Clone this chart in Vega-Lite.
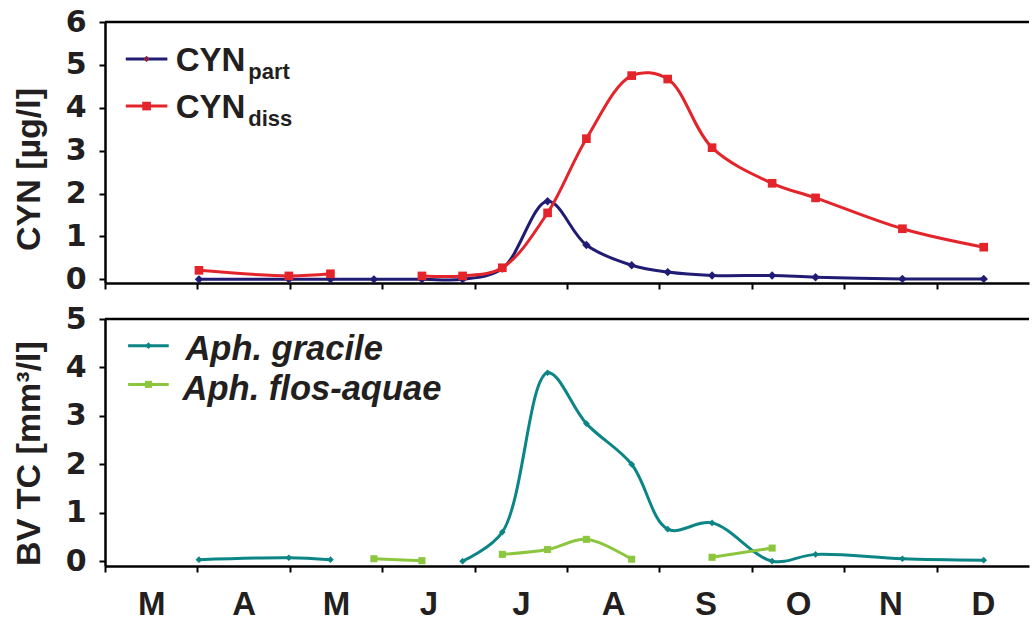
{
  "$schema": "https://vega.github.io/schema/vega-lite/v6.json",
  "background": "white",
  "padding": {"left": 11, "top": 7, "right": 2, "bottom": 2},
  "spacing": 9,
  "resolve": {"scale": {"color": "independent", "shape": "independent", "size": "independent"}},
  "datasets": {
    "main": [
      {"panel": "top", "series": "CYNpart", "seg": 1, "m": 1.017, "v": 0.0},
      {"panel": "top", "series": "CYNpart", "seg": 1, "m": 1.99, "v": 0.0},
      {"panel": "top", "series": "CYNpart", "seg": 1, "m": 2.44, "v": 0.0},
      {"panel": "top", "series": "CYNpart", "seg": 1, "m": 2.91, "v": 0.0},
      {"panel": "top", "series": "CYNpart", "seg": 1, "m": 3.43, "v": 0.0},
      {"panel": "top", "series": "CYNpart", "seg": 1, "m": 3.87, "v": 0.0},
      {"panel": "top", "series": "CYNpart", "seg": 1, "m": 4.30, "v": 0.25},
      {"panel": "top", "series": "CYNpart", "seg": 1, "m": 4.79, "v": 1.82},
      {"panel": "top", "series": "CYNpart", "seg": 1, "m": 5.21, "v": 0.80},
      {"panel": "top", "series": "CYNpart", "seg": 1, "m": 5.70, "v": 0.33},
      {"panel": "top", "series": "CYNpart", "seg": 1, "m": 6.09, "v": 0.17},
      {"panel": "top", "series": "CYNpart", "seg": 1, "m": 6.57, "v": 0.09},
      {"panel": "top", "series": "CYNpart", "seg": 1, "m": 7.22, "v": 0.09},
      {"panel": "top", "series": "CYNpart", "seg": 1, "m": 7.69, "v": 0.05},
      {"panel": "top", "series": "CYNpart", "seg": 1, "m": 8.63, "v": 0.01},
      {"panel": "top", "series": "CYNpart", "seg": 1, "m": 9.51, "v": 0.01},
      {"panel": "top", "series": "CYNdiss", "seg": 1, "m": 1.017, "v": 0.21},
      {"panel": "top", "series": "CYNdiss", "seg": 1, "m": 1.99, "v": 0.08},
      {"panel": "top", "series": "CYNdiss", "seg": 1, "m": 2.44, "v": 0.13},
      {"panel": "top", "series": "CYNdiss", "seg": 2, "m": 3.43, "v": 0.08},
      {"panel": "top", "series": "CYNdiss", "seg": 2, "m": 3.87, "v": 0.08},
      {"panel": "top", "series": "CYNdiss", "seg": 2, "m": 4.30, "v": 0.27},
      {"panel": "top", "series": "CYNdiss", "seg": 2, "m": 4.79, "v": 1.55},
      {"panel": "top", "series": "CYNdiss", "seg": 2, "m": 5.21, "v": 3.28},
      {"panel": "top", "series": "CYNdiss", "seg": 2, "m": 5.70, "v": 4.75},
      {"panel": "top", "series": "CYNdiss", "seg": 2, "m": 6.09, "v": 4.67},
      {"panel": "top", "series": "CYNdiss", "seg": 2, "m": 6.57, "v": 3.07},
      {"panel": "top", "series": "CYNdiss", "seg": 2, "m": 7.22, "v": 2.24},
      {"panel": "top", "series": "CYNdiss", "seg": 2, "m": 7.69, "v": 1.90},
      {"panel": "top", "series": "CYNdiss", "seg": 2, "m": 8.63, "v": 1.18},
      {"panel": "top", "series": "CYNdiss", "seg": 2, "m": 9.51, "v": 0.75},
      {"panel": "bottom", "series": "Aph. gracile", "seg": 1, "m": 1.017, "v": 0.03},
      {"panel": "bottom", "series": "Aph. gracile", "seg": 1, "m": 1.99, "v": 0.07},
      {"panel": "bottom", "series": "Aph. gracile", "seg": 1, "m": 2.44, "v": 0.03},
      {"panel": "bottom", "series": "Aph. gracile", "seg": 2, "m": 3.87, "v": 0.0},
      {"panel": "bottom", "series": "Aph. gracile", "seg": 2, "m": 4.30, "v": 0.6},
      {"panel": "bottom", "series": "Aph. gracile", "seg": 2, "m": 4.79, "v": 3.89},
      {"panel": "bottom", "series": "Aph. gracile", "seg": 2, "m": 5.21, "v": 2.84},
      {"panel": "bottom", "series": "Aph. gracile", "seg": 2, "m": 5.70, "v": 2.0},
      {"panel": "bottom", "series": "Aph. gracile", "seg": 2, "m": 6.09, "v": 0.66},
      {"panel": "bottom", "series": "Aph. gracile", "seg": 2, "m": 6.57, "v": 0.79},
      {"panel": "bottom", "series": "Aph. gracile", "seg": 2, "m": 7.22, "v": 0.0},
      {"panel": "bottom", "series": "Aph. gracile", "seg": 2, "m": 7.69, "v": 0.14},
      {"panel": "bottom", "series": "Aph. gracile", "seg": 2, "m": 8.63, "v": 0.05},
      {"panel": "bottom", "series": "Aph. gracile", "seg": 2, "m": 9.51, "v": 0.02},
      {"panel": "bottom", "series": "Aph. flos-aquae", "seg": 1, "m": 2.91, "v": 0.05},
      {"panel": "bottom", "series": "Aph. flos-aquae", "seg": 1, "m": 3.43, "v": 0.01},
      {"panel": "bottom", "series": "Aph. flos-aquae", "seg": 2, "m": 4.30, "v": 0.14},
      {"panel": "bottom", "series": "Aph. flos-aquae", "seg": 2, "m": 4.79, "v": 0.24},
      {"panel": "bottom", "series": "Aph. flos-aquae", "seg": 2, "m": 5.21, "v": 0.45},
      {"panel": "bottom", "series": "Aph. flos-aquae", "seg": 2, "m": 5.70, "v": 0.04},
      {"panel": "bottom", "series": "Aph. flos-aquae", "seg": 3, "m": 6.57, "v": 0.08},
      {"panel": "bottom", "series": "Aph. flos-aquae", "seg": 3, "m": 7.22, "v": 0.27}
    ]
  },
  "config": {
    "font": "Liberation Sans",
    "view": {"stroke": null},
    "axis": {
      "grid": false,
      "domainColor": "#000000",
      "domainWidth": 2.5,
      "tickColor": "#000000",
      "tickWidth": 2,
      "tickSize": 6,
      "labelFont": "DejaVu Sans",
      "labelFontWeight": "bold",
      "labelFontSize": 30,
      "labelColor": "#231f20",
      "titleFont": "Liberation Sans",
      "titleFontWeight": "bold",
      "titleFontSize": 34,
      "titleColor": "#231f20"
    },
    "text": {"font": "Liberation Sans", "fontWeight": "bold", "color": "#231f20"}
  },
  "vconcat": [
    {
      "width": 924,
      "height": 261,
      "layer": [
        {
          "data": {"name": "main"},
          "transform": [{"filter": "datum.panel === 'top'"}],
          "mark": {"type": "line", "interpolate": "catmull-rom", "strokeWidth": 3},
          "encoding": {
            "x": {"field": "m", "type": "quantitative",
              "scale": {"domain": [0, 10], "nice": false, "zero": false},
              "axis": {"values": [0, 1, 2, 3, 4, 5, 6, 7, 8, 9], "labels": false, "title": null}},
            "y": {"field": "v", "type": "quantitative",
              "scale": {"domain": [-0.085, 6], "nice": false, "zero": false},
              "axis": {"values": [0, 1, 2, 3, 4, 5, 6], "title": "CYN [µg/l]", "labelPadding": 13, "titleX": -66, "titleY": 147, "titleBaseline": "alphabetic", "titleAngle": -90}},
            "color": {"field": "series", "type": "nominal",
              "scale": {"domain": ["CYNpart", "CYNdiss"], "range": ["#211c73", "#e3242b"]}, "legend": null},
            "detail": {"field": "seg"},
            "order": {"field": "m"}
          }
        },
        {
          "data": {"name": "main"},
          "transform": [{"filter": "datum.panel === 'top'"}],
          "mark": {"type": "point", "filled": true, "opacity": 1},
          "encoding": {
            "x": {"field": "m", "type": "quantitative"},
            "y": {"field": "v", "type": "quantitative"},
            "color": {"field": "series", "type": "nominal", "legend": null},
            "shape": {"field": "series", "type": "nominal",
              "scale": {"domain": ["CYNpart", "CYNdiss"], "range": ["diamond", "square"]}, "legend": null},
            "size": {"field": "series", "type": "nominal",
              "scale": {"domain": ["CYNpart", "CYNdiss"], "range": [70, 75]}, "legend": null}
          }
        },
        {
          "data": {"values": [{"k": 1}]},
          "mark": {"type": "rule", "color": "#000000", "strokeWidth": 2.5},
          "encoding": {"y": {"datum": 6}}
        },
        {
          "data": {"values": [{"k": 1}]},
          "mark": {"type": "rule", "color": "#211c73", "strokeWidth": 3},
          "encoding": {"x": {"datum": 0.225}, "x2": {"datum": 0.675}, "y": {"datum": 5.14}}
        },
        {
          "data": {"values": [{"k": 1}]},
          "mark": {"type": "point", "shape": "diamond", "filled": true, "color": "#8a2040", "size": 40, "opacity": 1},
          "encoding": {"x": {"datum": 0.45}, "y": {"datum": 5.14}}
        },
        {
          "data": {"values": [{"k": 1}]},
          "mark": {"type": "rule", "color": "#e3242b", "strokeWidth": 3},
          "encoding": {"x": {"datum": 0.225}, "x2": {"datum": 0.675}, "y": {"datum": 4.04}}
        },
        {
          "data": {"values": [{"k": 1}]},
          "mark": {"type": "point", "shape": "square", "filled": true, "color": "#e3242b", "size": 75, "opacity": 1},
          "encoding": {"x": {"datum": 0.45}, "y": {"datum": 4.04}}
        },
        {
          "data": {"values": [{"main": "CYN"}]},
          "mark": {"type": "text", "align": "left", "baseline": "alphabetic", "fontSize": 33},
          "encoding": {"x": {"datum": 0.765}, "y": {"datum": 4.85}, "text": {"field": "main"}}
        },
        {
          "data": {"values": [{"main": "CYN"}]},
          "mark": {"type": "text", "align": "left", "baseline": "alphabetic", "fontSize": 33},
          "encoding": {"x": {"datum": 0.765}, "y": {"datum": 3.76}, "text": {"field": "main"}}
        },
        {
          "data": {"values": [{"sub": "part"}]},
          "mark": {"type": "text", "align": "left", "baseline": "alphabetic", "fontSize": 22},
          "encoding": {"x": {"datum": 1.55}, "y": {"datum": 4.66}, "text": {"field": "sub"}}
        },
        {
          "data": {"values": [{"sub": "diss"}]},
          "mark": {"type": "text", "align": "left", "baseline": "alphabetic", "fontSize": 22},
          "encoding": {"x": {"datum": 1.55}, "y": {"datum": 3.57}, "text": {"field": "sub"}}
        }
      ]
    },
    {
      "width": 924,
      "height": 247,
      "layer": [
        {
          "data": {"name": "main"},
          "transform": [{"filter": "datum.panel === 'bottom'"}],
          "mark": {"type": "line", "interpolate": "catmull-rom", "strokeWidth": 3},
          "encoding": {
            "x": {"field": "m", "type": "quantitative",
              "scale": {"domain": [0, 10], "nice": false, "zero": false},
              "axis": {"values": [0, 1, 2, 3, 4, 5, 6, 7, 8, 9], "title": null, "labelOffset": 46.2, "labelPadding": 16, "labelOverlap": false, "labelFlush": false,
                "labelFont": "Liberation Sans", "labelFontSize": 33,
                "labelExpr": "['M','A','M','J','J','A','S','O','N','D'][round(datum.value)]"}},
            "y": {"field": "v", "type": "quantitative",
              "scale": {"domain": [-0.1, 5], "nice": false, "zero": false},
              "axis": {"values": [0, 1, 2, 3, 4, 5], "title": "BV TC [mm³/l]", "labelPadding": 13, "titleX": -66, "titleY": 134, "titleBaseline": "alphabetic", "titleAngle": -90}},
            "color": {"field": "series", "type": "nominal",
              "scale": {"domain": ["Aph. gracile", "Aph. flos-aquae"], "range": ["#0b8585", "#8cc63e"]}, "legend": null},
            "detail": {"field": "seg"},
            "order": {"field": "m"}
          }
        },
        {
          "data": {"name": "main"},
          "transform": [{"filter": "datum.panel === 'bottom'"}],
          "mark": {"type": "point", "filled": true, "opacity": 1},
          "encoding": {
            "x": {"field": "m", "type": "quantitative"},
            "y": {"field": "v", "type": "quantitative"},
            "color": {"field": "series", "type": "nominal", "legend": null},
            "shape": {"field": "series", "type": "nominal",
              "scale": {"domain": ["Aph. gracile", "Aph. flos-aquae"], "range": ["diamond", "square"]}, "legend": null},
            "size": {"field": "series", "type": "nominal",
              "scale": {"domain": ["Aph. gracile", "Aph. flos-aquae"], "range": [45, 50]}, "legend": null}
          }
        },
        {
          "data": {"values": [{"k": 1}]},
          "mark": {"type": "rule", "color": "#000000", "strokeWidth": 2.5},
          "encoding": {"y": {"datum": 5}}
        },
        {
          "data": {"values": [{"k": 1}]},
          "mark": {"type": "rule", "color": "#0b8585", "strokeWidth": 3},
          "encoding": {"x": {"datum": 0.25}, "x2": {"datum": 0.69}, "y": {"datum": 4.45}}
        },
        {
          "data": {"values": [{"k": 1}]},
          "mark": {"type": "point", "shape": "diamond", "filled": true, "color": "#0b8585", "size": 45, "opacity": 1},
          "encoding": {"x": {"datum": 0.47}, "y": {"datum": 4.45}}
        },
        {
          "data": {"values": [{"k": 1}]},
          "mark": {"type": "rule", "color": "#8cc63e", "strokeWidth": 3},
          "encoding": {"x": {"datum": 0.25}, "x2": {"datum": 0.69}, "y": {"datum": 3.65}}
        },
        {
          "data": {"values": [{"k": 1}]},
          "mark": {"type": "point", "shape": "square", "filled": true, "color": "#8cc63e", "size": 50, "opacity": 1},
          "encoding": {"x": {"datum": 0.47}, "y": {"datum": 3.65}}
        },
        {
          "data": {"values": [{"label": "Aph. gracile"}]},
          "mark": {"type": "text", "align": "left", "baseline": "alphabetic", "fontSize": 34.5, "fontStyle": "italic"},
          "encoding": {"x": {"datum": 0.87}, "y": {"datum": 4.15}, "text": {"field": "label"}}
        },
        {
          "data": {"values": [{"label": "Aph. flos-aquae"}]},
          "mark": {"type": "text", "align": "left", "baseline": "alphabetic", "fontSize": 34.5, "fontStyle": "italic"},
          "encoding": {"x": {"datum": 0.84}, "y": {"datum": 3.33}, "text": {"field": "label"}}
        }
      ]
    }
  ]
}
